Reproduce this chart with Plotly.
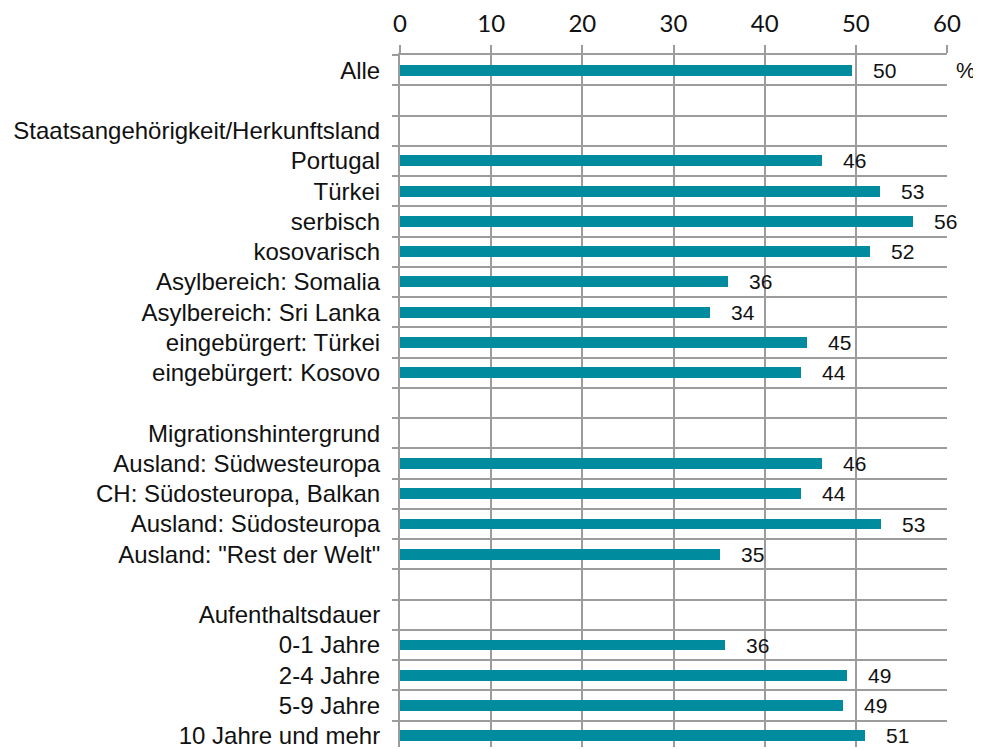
import plotly.graph_objects as go

categories = [
    "Alle",
    "",
    "Staatsangehörigkeit/Herkunftsland",
    "Portugal",
    "Türkei",
    "serbisch",
    "kosovarisch",
    "Asylbereich: Somalia",
    "Asylbereich: Sri Lanka",
    "eingebürgert: Türkei",
    "eingebürgert: Kosovo",
    " ",
    "Migrationshintergrund",
    "Ausland: Südwesteuropa",
    "CH: Südosteuropa, Balkan",
    "Ausland: Südosteuropa",
    "Ausland: \"Rest der Welt\"",
    "  ",
    "Aufenthaltsdauer",
    "0-1 Jahre",
    "2-4 Jahre",
    "5-9 Jahre",
    "10 Jahre und mehr",
]

values = [
    49.6, None, None,
    46.3, 52.6, 56.3, 51.6, 36.0, 34.0, 44.6, 44.0,
    None, None,
    46.3, 44.0, 52.8, 35.1,
    None, None,
    35.7, 49.0, 48.6, 51.0,
]

x_ticks = [0, 10, 20, 30, 40, 50, 60]
unit_label = "%"

GRID = "#9c9c9c"
BAR = "#008c9e"
LABEL_FONT = "Liberation Sans, Arial, sans-serif"

ypos = list(range(len(categories)))
bar_y = [y for y, v in zip(ypos, values) if v is not None]
bar_x = [v for v in values if v is not None]

fig = go.Figure()
fig.add_trace(go.Bar(
    x=bar_x, y=bar_y, orientation="h",
    marker=dict(color=BAR, line=dict(width=0)),
    width=0.36, hoverinfo="x+y",
))

annotations = []
for y, v in zip(bar_y, bar_x):
    annotations.append(dict(
        x=v, y=y, xref="x", yref="y", text=f"{v:.0f}",
        showarrow=False, xanchor="left", yanchor="middle", xshift=19,
        font=dict(family=LABEL_FONT, size=21, color="#111111"),
    ))
annotations.append(dict(
    x=1, y=0, xref="paper", yref="y", text=unit_label,
    showarrow=False, xanchor="left", yanchor="middle", xshift=7,
    width=28, align="left",
    font=dict(family=LABEL_FONT, size=22, color="#111111"),
))

fig.update_layout(
    width=973, height=741,
    margin=dict(l=392, r=34, t=45, b=0),
    paper_bgcolor="white", plot_bgcolor="white",
    showlegend=False,
    bargap=0,
    annotations=annotations,
    xaxis=dict(
        side="top", range=[0, 60], tickvals=x_ticks,
        showgrid=True, gridcolor=GRID, gridwidth=2,
        showline=True, linecolor=GRID, linewidth=2,
        ticks="outside", ticklen=8, tickwidth=2, tickcolor=GRID,
        tickfont=dict(family="Lato, sans-serif", size=24, color="#111111"),
        zeroline=False, fixedrange=True,
        ticklabelstandoff=3,
    ),
    yaxis=dict(
        range=[22.37, -0.5],
        tickmode="array", tickvals=ypos, ticktext=categories,
        ticks="", showgrid=False, zeroline=False,
        showline=True, linecolor=GRID, linewidth=2,
        tickfont=dict(family=LABEL_FONT, size=24, color="#111111"),
        ticklabelstandoff=13,
        ticklabeloverflow="allow",
        minor=dict(
            tickmode="array", tickvals=[i - 0.5 for i in range(len(categories) + 1)],
            ticks="outside", ticklen=6, tickwidth=2, tickcolor=GRID,
            showgrid=True, gridcolor=GRID, gridwidth=2,
        ),
        fixedrange=True,
    ),
)

fig.write_html("out.html")
